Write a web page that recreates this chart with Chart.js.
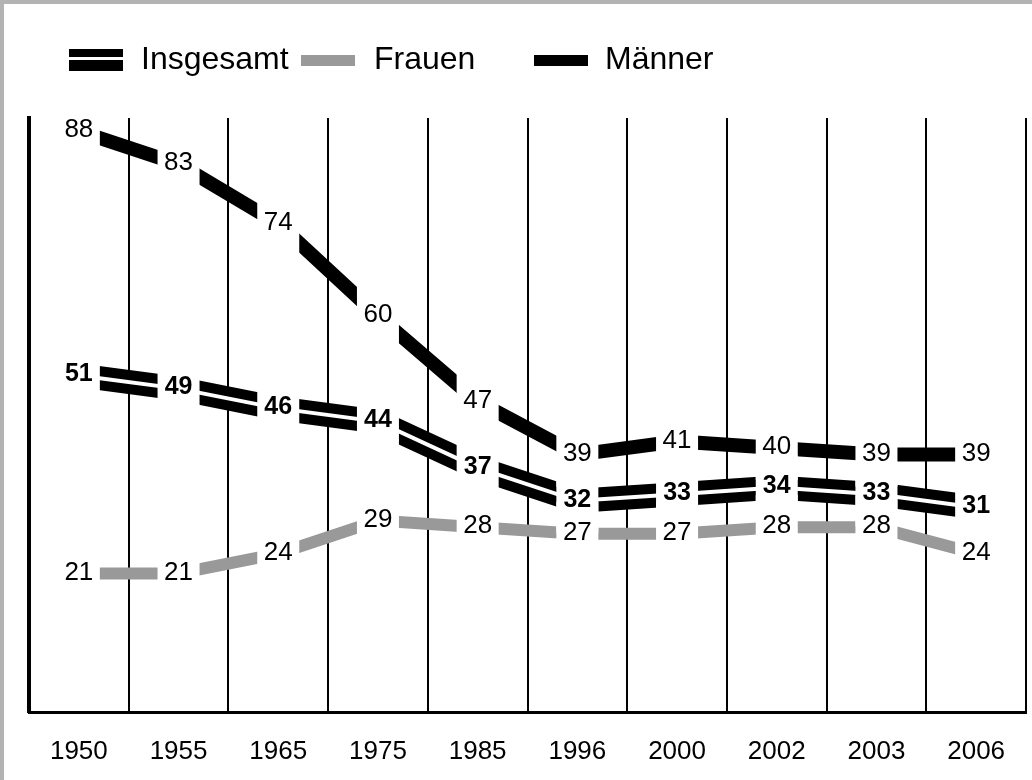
<!DOCTYPE html>
<html>
<head>
<meta charset="utf-8">
<script src="https://cdn.jsdelivr.net/npm/chart.js@4.4.1/dist/chart.umd.min.js"></script>
<style>
  body { margin: 0; background: #b3b3b3; font-family: "Liberation Sans", Arial, sans-serif; }
  #frame { position: absolute; left: 4px; top: 4px; width: 1028px; height: 776px; background: #fff; overflow: hidden; }
  #chart { position: absolute; left: 0; top: 0; }
  .legText { position: absolute; top: 38px; font-size: 32px; line-height: 32px; color: #000; white-space: nowrap; }
  .legIcon { position: absolute; }
</style>
</head>
<body>
<div id="frame">
  <canvas id="chart" width="1028" height="776"></canvas>

  <!-- legend, laid out by hand -->
  <div class="legIcon" style="left:65px; top:45px; width:54px; height:22px; background:#000;">
    <div style="position:absolute; left:0; top:8px; width:54px; height:3px; background:#fff;"></div>
  </div>
  <div class="legText" style="left:137px;">Insgesamt</div>
  <div class="legIcon" style="left:297px; top:51px; width:54px; height:11px; background:#999;"></div>
  <div class="legText" style="left:370px;">Frauen</div>
  <div class="legIcon" style="left:530px; top:51px; width:54px; height:11px; background:#000;"></div>
  <div class="legText" style="left:601px;">Männer</div>
</div>

<script>
const years = ['1950', '1955', '1965', '1975', '1985', '1996', '2000', '2002', '2003', '2006'];
const insgesamt = [51, 49, 46, 44, 37, 32, 33, 34, 33, 31];
const frauen = [21, 21, 24, 29, 28, 27, 27, 28, 28, 24];
const maenner = [88, 83, 74, 60, 47, 39, 41, 40, 39, 39];

// which datasets get a value label, and how
const labelled = [
    { index: 0, bold: true },
    { index: 2, bold: false },
    { index: 3, bold: false }
];

// white gap around each value, then the value itself
const valueLabels = {
    id: 'valueLabels',
    afterDatasetsDraw(chart) {
        const ctx = chart.ctx;
        ctx.save();
        ctx.fillStyle = '#fff';
        labelled.forEach(l => {
            chart.getDatasetMeta(l.index).data.forEach(pt => {
                ctx.fillRect(pt.x - 21, pt.y - 32, 42, 64);
            });
        });
        ctx.fillStyle = '#000';
        ctx.textAlign = 'center';
        ctx.textBaseline = 'middle';
        labelled.forEach(l => {
            const ds = chart.data.datasets[l.index];
            ctx.font = (l.bold ? 'bold 25px' : '26px') + ' "Liberation Sans", Arial, sans-serif';
            chart.getDatasetMeta(l.index).data.forEach((pt, i) => {
                ctx.fillText(String(ds.data[i]), pt.x, pt.y - 1);
            });
        });
        ctx.restore();
    }
};

const lineStyle = { pointRadius: 0, pointHoverRadius: 0, tension: 0, borderCapStyle: 'butt', borderJoinStyle: 'miter', fill: false };

new Chart(document.getElementById('chart'), {
    type: 'line',
    data: {
        labels: years,
        datasets: [
            { label: 'Insgesamt', data: insgesamt, borderColor: '#000', borderWidth: 24, order: 2, ...lineStyle },
            { label: 'Insgesamt innen', data: insgesamt, borderColor: '#fff', borderWidth: 4, order: 1, ...lineStyle },
            { label: 'Frauen', data: frauen, borderColor: '#999', borderWidth: 12, order: 3, ...lineStyle },
            { label: 'Männer', data: maenner, borderColor: '#000', borderWidth: 14, order: 3, ...lineStyle }
        ]
    },
    options: {
        responsive: false,
        animation: false,
        devicePixelRatio: 1,
        layout: { padding: { left: 25, right: 6, top: 114, bottom: 0 } },
        plugins: { legend: { display: false }, tooltip: { enabled: false } },
        events: [],
        scales: {
            x: {
                offset: true,
                grid: { offset: true, color: '#000', lineWidth: 2, drawTicks: false },
                border: { display: true, color: '#000', width: 3 },
                ticks: {
                    color: '#000',
                    font: { family: '"Liberation Sans", Arial, sans-serif', size: 26 },
                    padding: 24,
                    maxRotation: 0,
                    autoSkip: false
                },
                afterFit: s => { s.height = 68; }
            },
            y: {
                min: 0,
                max: 90,
                ticks: { display: false },
                grid: { display: false },
                border: { display: true, color: '#000', width: 4 },
                afterFit: s => { s.width = 0; }
            }
        }
    },
    plugins: [valueLabels]
});
</script>
</body>
</html>
